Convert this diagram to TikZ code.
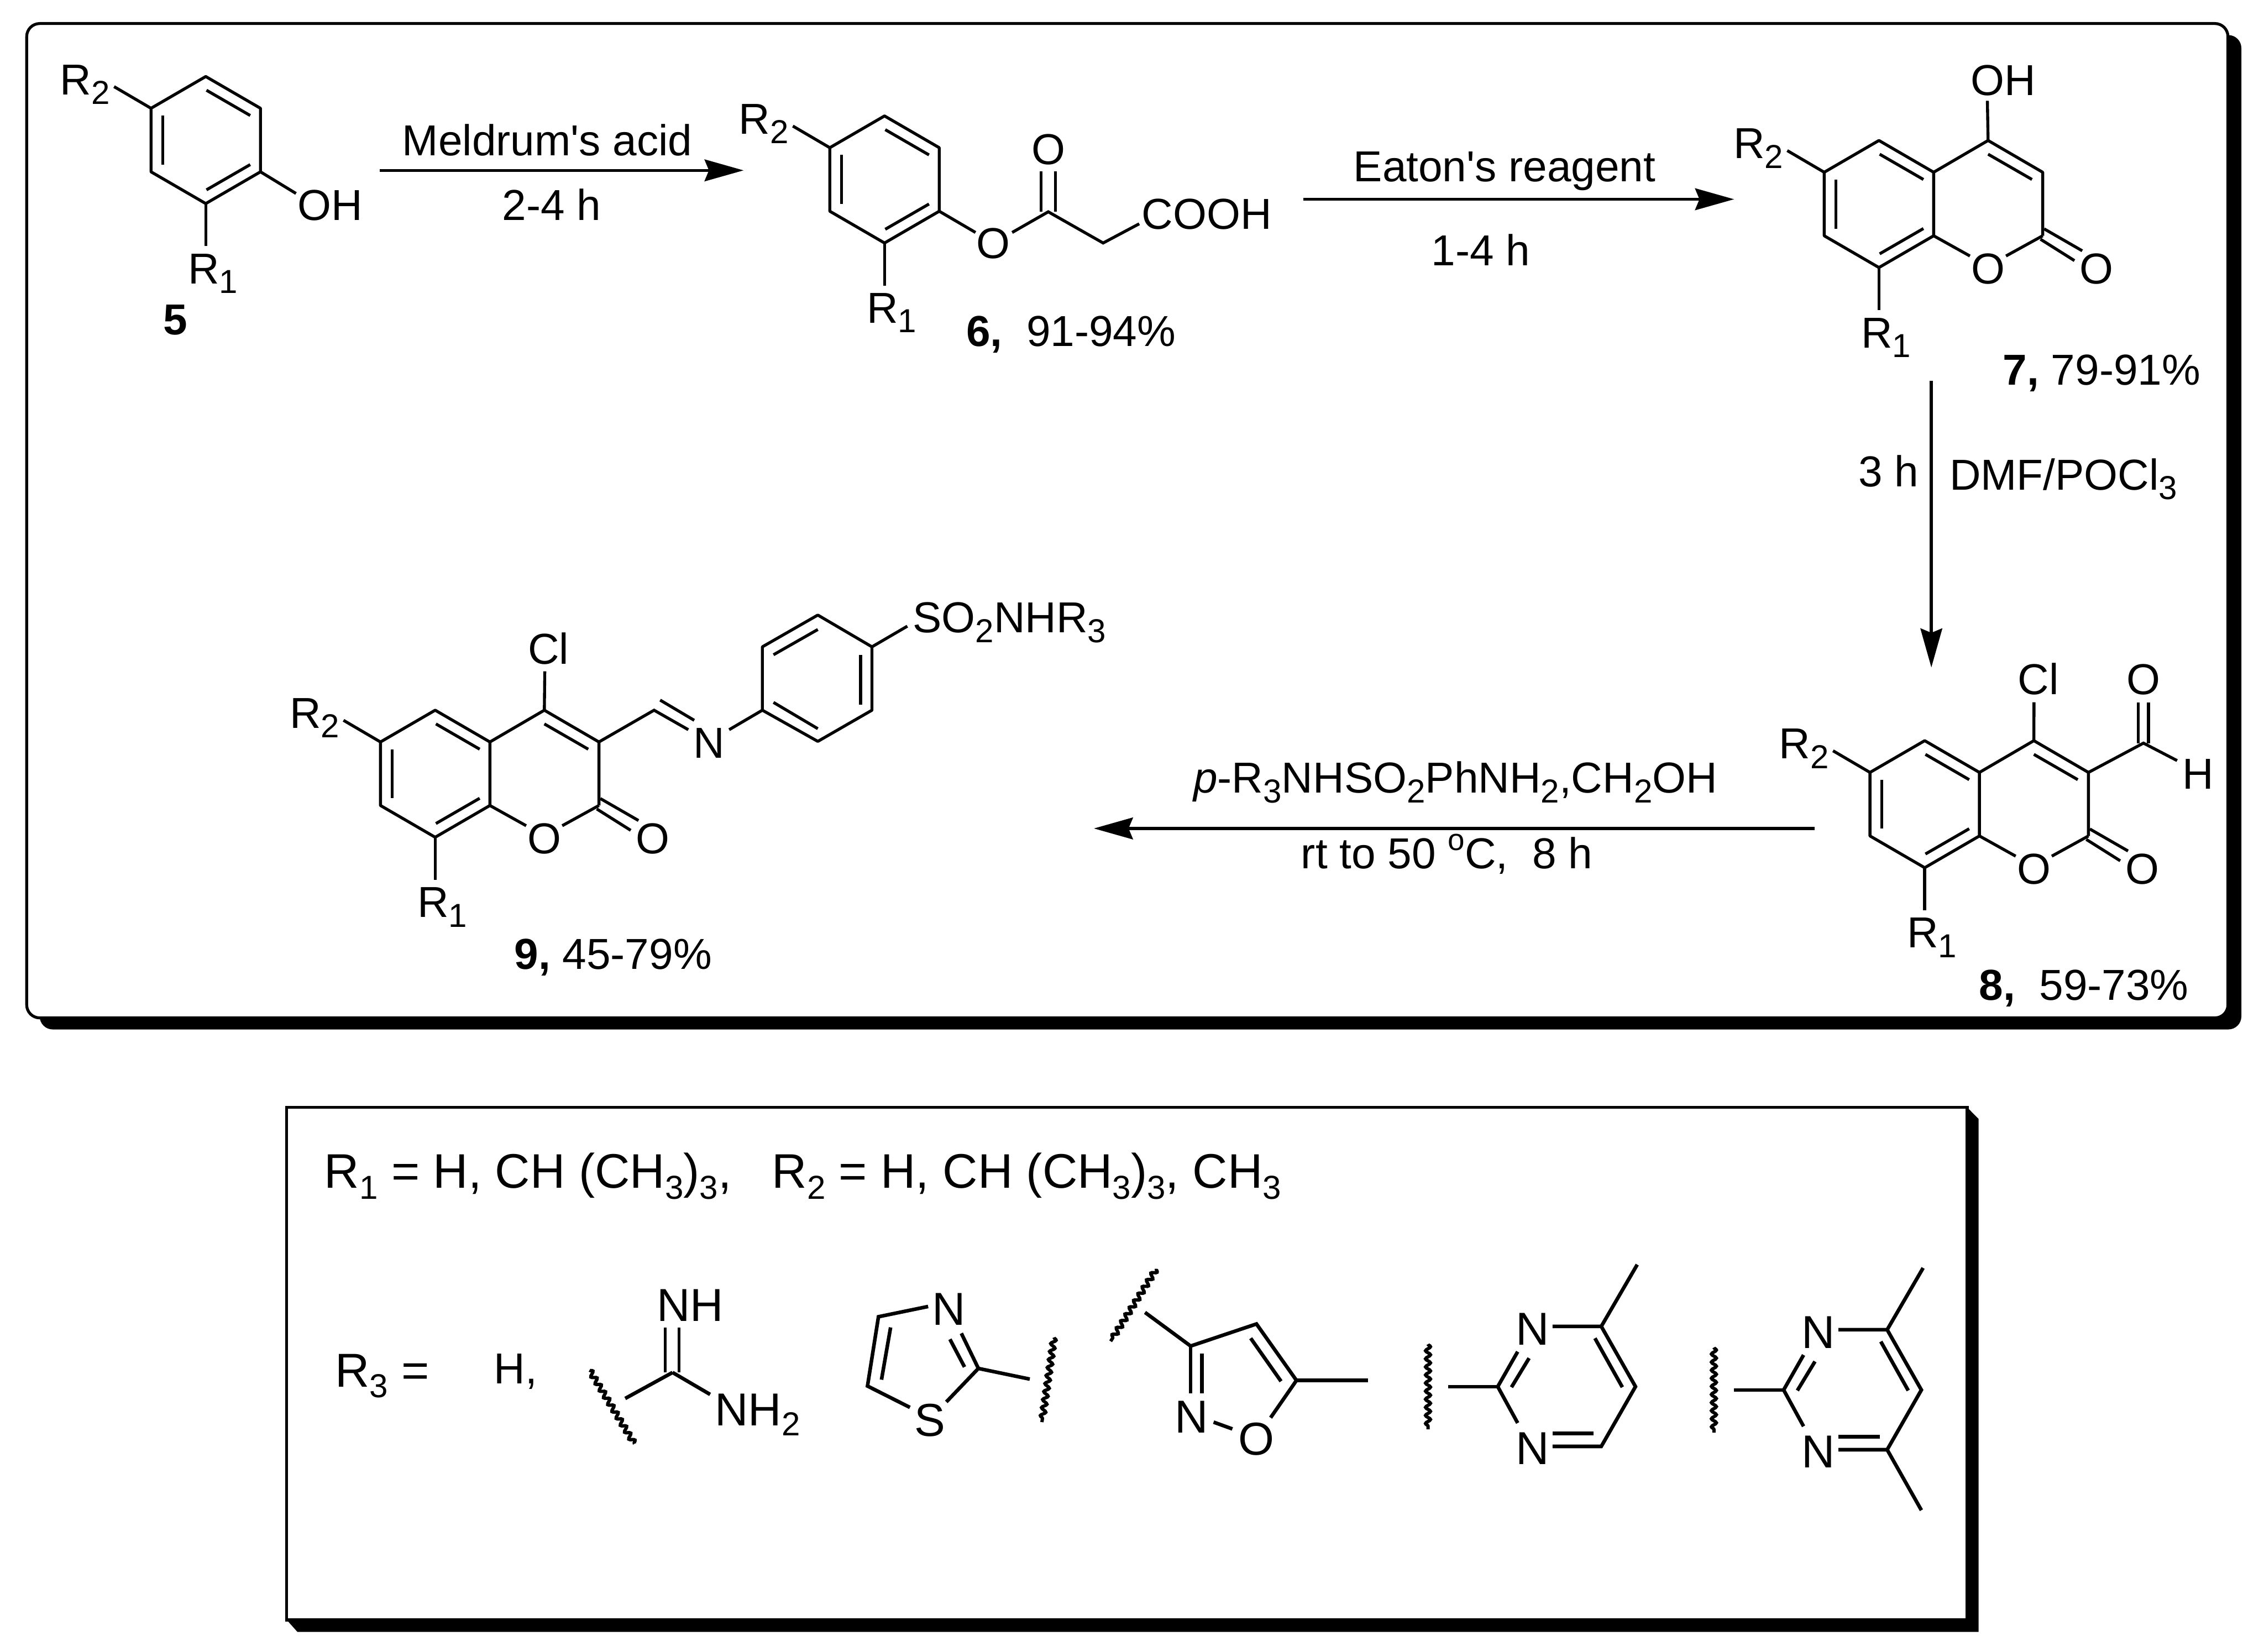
\documentclass[tikz,border=0pt]{standalone}
\usepackage{fontspec}
\setmainfont{Liberation Sans}
\usetikzlibrary{arrows.meta,decorations.pathmorphing}
\newcommand{\low}[1]{\raisebox{-0.22em}{\fontsize{23}{26}\selectfont #1}}
\newcommand{\high}[1]{\raisebox{0.42em}{\fontsize{21}{24}\selectfont #1}}
\tikzset{
  bond/.style={line width=2.05pt},
  rbond/.style={line width=2.5pt},
  wavy/.style={line width=2.3pt,decorate,decoration={snake,segment length=5.6pt,amplitude=1.7pt}},
  rxn/.style={line width=2.1pt,-{Stealth[length=27pt,width=15pt,inset=3pt]}},
  lab/.style={inner sep=0pt,anchor=base,font=\fontsize{30}{36}\selectfont},
  labl/.style={lab,anchor=base west},
  labr/.style={lab,anchor=base east},
  rlab/.style={inner sep=0pt,anchor=base,font=\fontsize{32}{36}\selectfont},
  rlabl/.style={rlab,anchor=base west},
  panel/.style={line width=2pt,draw=black,fill=white}
}
% benzene ring with R1 and R2, origin on its top atom
\newcommand{\benzring}[1]{
  \coordinate (#1t) at (0,0);
  \coordinate (#1ur) at (37.9,22);
  \coordinate (#1lr) at (37.9,66);
  \coordinate (#1b) at (0,88);
  \coordinate (#1ll) at (-37.9,66);
  \coordinate (#1ul) at (-37.9,22);
  \draw[bond,line join=round] (#1t) -- (#1ur) -- (#1lr) -- (#1b) -- (#1ll) -- (#1ul) -- cycle;
  \draw[bond] (0.5,9.5) -- (30.8,27);
  \draw[bond] (-29.7,27) -- (-29.7,61);
  \draw[bond] (0.5,78.5) -- (30.8,61);
  \node[labl] (#1rtwo) at (-101,12.5) {R\low{2}};
  \node[labl] (#1rone) at (-12.5,143.5) {R\low{1}};
  \draw[bond] (#1ul) -- (-63.5,7);
  \draw[bond] (#1b) -- (0,117.5);
}
% pyranone ring fused on the benzene ring
\newcommand{\pyranone}[1]{
  \benzring{#1}
  \coordinate (#1cf) at (75.6,0);
  \coordinate (#1ct) at (113.4,22);
  \coordinate (#1cd) at (113.4,66);
  \draw[bond,line join=round] (#1ur) -- (#1cf) -- (#1ct) -- (#1cd);
  \draw[bond] (75.6,9.5) -- (106,27);
  \node[lab] (#1oa) at (75.7,99.4) {O};
  \node[lab] (#1ob) at (150.7,99.4) {O};
  \draw[bond] (#1lr) -- (63,80);
  \draw[bond] (#1cd) -- (88,80);
  \draw[bond] (114.4,61.2) -- (140.8,76.4);
  \draw[bond] (111.9,68.4) -- (135.4,83.2);
}
% pyrimidine, origin on the atom between the two N
\newcommand{\pyrim}[1]{
  \coordinate (#1c) at (0,0);
  \coordinate (#1d) at (71.7,-41.7);
  \coordinate (#1e) at (95.4,0);
  \coordinate (#1f) at (71.7,41.4);
  \node[rlab] (#1na) at (24.1,-28.7) {N};
  \node[rlab] (#1nb) at (24.1,54) {N};
  \draw[wavy] (-48.3,-29.4) -- (-48.3,29.6);
  \draw[rbond] (-34.5,0) -- (#1c);
  \draw[rbond] (#1c) -- (13.8,-24.2);
  \draw[rbond] (9.5,0.4) -- (21.7,-19.7);
  \draw[rbond] (#1c) -- (13.8,25.2);
  \draw[rbond] (38,-41.7) -- (#1d) -- (#1e) -- (#1f) -- (38,41.4);
  \draw[rbond] (67.3,-33.5) -- (86.3,0.4);
  \draw[rbond] (38,32.4) -- (66.5,32.4);
  \draw[rbond] (#1d) -- (96.6,-84.5);
}
\begin{document}
\begin{tikzpicture}[x=1pt,y=-1pt]
  \path[use as bounding box,fill=white] (0,0) rectangle (1568,1144);
  % top panel
  \fill[rounded corners=9pt] (27.5,24.3) rectangle (1552.3,713);
  \draw[panel,rounded corners=9pt] (18.5,16.3) rectangle (1543,705);
  % compound 5
  \begin{scope}[shift={(142.5,53)}]
    \benzring{a}
  \end{scope}
  \node[labl] (ohfive) at (206,152.5) {OH};
  \draw[bond] (alr) -- (205,134);
  \node[lab] (numfive) at (121.5,231.6) {\textbf{5}};
  % compound 6
  \begin{scope}[shift={(612.6,80.3)}]
    \benzring{b}
  \end{scope}
  \coordinate (bco) at (726,146.7);
  \coordinate (bch) at (764,168.3);
  \node[lab] (boa) at (688,179) {O};
  \node[lab] (bob) at (726,114) {O};
  \node[labr] (cooh) at (881,158.8) {COOH};
  \draw[bond] (blr) -- (675.6,161);
  \draw[bond] (701,161) -- (bco) -- (bch) -- (789,155);
  \draw[bond] (721,146.7) -- (721,118.7);
  \draw[bond] (731,146.7) -- (731,118.7);
  \node[labl] (numsix) at (669,239.8) {\textbf{6,}\ \ 91-94\%};
  % compound 7
  \begin{scope}[shift={(1301.3,97.3)}]
    \pyranone{c}
  \end{scope}
  \node[labl] (ohseven) at (1364.6,65.9) {OH};
  \draw[bond] (ccf) -- (1376.4,69.8);
  \node[labl] (numseven) at (1387,266.6) {\textbf{7,} 79-91\%};
  % compound 8
  \begin{scope}[shift={(1333,513)}]
    \pyranone{d}
  \end{scope}
  \coordinate (dald) at (1484.5,514.7);
  \node[labl] (clei) at (1397.4,481) {Cl};
  \node[lab] (oald) at (1484.5,481) {O};
  \node[lab] (hald) at (1522.4,546.5) {H};
  \draw[bond] (dcf) -- (1408.7,486.4);
  \draw[bond] (dct) -- (dald) -- (1507.8,526.8);
  \draw[bond] (1481,514.7) -- (1481,486.4);
  \draw[bond] (1488,514.7) -- (1488,486.4);
  \node[labl] (numeight) at (1370.5,692.8) {\textbf{8,}\ \ 59-73\%};
  % compound 9
  \begin{scope}[shift={(301.4,491.9)}]
    \pyranone{e}
  \end{scope}
  \coordinate (ech) at (453,491.9);
  \coordinate (ph1) at (528,491.9);
  \coordinate (ph2) at (528,448);
  \coordinate (ph3) at (566.4,426);
  \coordinate (ph4) at (603.9,448);
  \coordinate (ph5) at (603.9,491.9);
  \coordinate (ph6) at (566.4,513.5);
  \node[labl] (clni) at (365.5,460) {Cl};
  \node[lab] (nim) at (491,525.2) {N};
  \node[labl] (sulf) at (632,438.3) {SO\low{2}NHR\low{3}};
  \draw[bond] (ecf) -- (377.3,465);
  \draw[bond] (ect) -- (ech) -- (476.7,505.4);
  \draw[bond] (457.2,484.9) -- (480.8,498.9);
  \draw[bond] (505,505.4) -- (ph1);
  \draw[bond,line join=round] (ph1) -- (ph2) -- (ph3) -- (ph4) -- (ph5) -- (ph6) -- cycle;
  \draw[bond] (535.7,453.5) -- (566.4,436);
  \draw[bond] (596,453.5) -- (596,488);
  \draw[bond] (535.7,486.5) -- (566.4,504.7);
  \draw[bond] (ph4) -- (628.4,433.7);
  \node[labl] (numnine) at (356,671.1) {\textbf{9,} 45-79\%};
  % arrows
  \coordinate (aone) at (263,118);
  \coordinate (bone) at (515,118);
  \coordinate (atwo) at (902.6,138);
  \coordinate (btwo) at (1201,138);
  \coordinate (athree) at (1337.6,263.8);
  \coordinate (bthree) at (1337.6,462.3);
  \coordinate (afour) at (1256.8,573.8);
  \coordinate (bfour) at (757.6,573.8);
  \draw[rxn] (aone) -- (bone);
  \draw[rxn] (atwo) -- (btwo);
  \draw[rxn] (athree) -- (bthree);
  \draw[rxn] (afour) -- (bfour);
  \node[lab] (meld) at (379,107.6) {Meldrum\textquotesingle s acid};
  \node[lab] (tone) at (382,152.5) {2-4 h};
  \node[lab] (eaton) at (1042,125.7) {Eaton\textquotesingle s reagent};
  \node[lab] (ttwo) at (1025.5,184) {1-4 h};
  \node[labr] (tthree) at (1329,336.9) {3 h};
  \node[labl] (dmf) at (1350,339.4) {DMF/POCl\low{3}};
  \node[lab] (amine) at (1008,549.3) {\textit{p}-R\low{3}NHSO\low{2}PhNH\low{2},CH\low{2}OH};
  \node[lab] (tfour) at (1002,601.7) {rt to 50 \high{o}C,\ \ 8 h};
  % lower panel
  \fill (198.6,1122) -- (206,1130.3) -- (1370.3,1130.3) -- (1370.3,775) -- (1362.4,767) -- cycle;
  \draw[panel] (198.6,767) rectangle (1362.4,1122);
  \node[labl,font=\fontsize{33.6}{36}\selectfont] (rlist) at (224.5,823) {R\low{1} = H, CH (CH\low{3})\low{3},\ \ \ R\low{2} = H, CH (CH\low{3})\low{3}, CH\low{3}};
  \node[rlabl,font=\fontsize{33}{36}\selectfont] (rthree) at (232,960.8) {R\low{3} =};
  \node[labl] (hyd) at (342,958.4) {H,};
  % guanidine
  \coordinate (gu) at (465.8,950.6);
  \node[rlabl] (gnh) at (454.6,915.2) {NH};
  \node[rlabl] (gnt) at (495,987.3) {NH\low{2}};
  \draw[rbond] (gu) -- (491.8,965.8);
  \draw[rbond] (gu) -- (433,968.6);
  \draw[bond] (460.8,950.6) -- (460.8,919.4);
  \draw[bond] (470.4,950.6) -- (470.4,919.4);
  \draw[wavy] (408.3,949) -- (439.4,1000);
  % thiazole
  \coordinate (tha) at (608.4,912);
  \coordinate (thb) at (600.8,960);
  \coordinate (thc) at (677.6,947.8);
  \node[rlab] (thn) at (657,917.6) {N};
  \node[rlab] (ths) at (644,994.7) {S};
  \draw[rbond] (642.8,904.9) -- (tha) -- (thb) -- (630.2,974.8);
  \draw[rbond] (655.4,971) -- (thc) -- (665.8,923.5);
  \draw[rbond] (616.8,919.4) -- (610.5,955.6);
  \draw[rbond] (668,946.8) -- (657.9,927.6);
  \draw[rbond] (thc) -- (713.2,955.2);
  \draw[wavy] (730,926.3) -- (721.6,985);
  % isoxazole
  \coordinate (isa) at (824.6,932.3);
  \coordinate (isb) at (870.2,917);
  \coordinate (isc) at (897.9,956.1);
  \node[rlab] (isn) at (825.4,992.5) {N};
  \node[rlab] (iso) at (870.2,1007.7) {O};
  \draw[wavy] (800.9,878.8) -- (769.2,929);
  \draw[rbond] (793,909) -- (isa) -- (isb) -- (isc) -- (880,981.9);
  \draw[rbond] (isc) -- (947.4,956.1);
  \draw[rbond] (866.2,926.9) -- (887.2,956.7);
  \draw[rbond] (isa) -- (824.6,964.9);
  \draw[rbond] (832.5,937.5) -- (832.5,964.9);
  \draw[rbond] (840.5,985) -- (853.5,989.7);
  % pyrimidines
  \begin{scope}[shift={(1037.3,960.4)}]
    \pyrim{p}
  \end{scope}
  \begin{scope}[shift={(1235.3,962.7)}]
    \pyrim{q}
  \end{scope}
  \draw[rbond] (qf) -- (1330.7,1046);
\end{tikzpicture}
\end{document}
